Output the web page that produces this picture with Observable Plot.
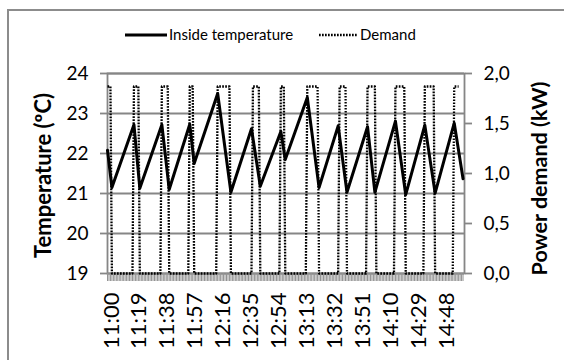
<!DOCTYPE html>
<html>
<head>
<meta charset="utf-8">
<script src="https://cdn.jsdelivr.net/npm/d3@7"></script>
<script src="https://cdn.jsdelivr.net/npm/@observablehq/plot@0.6"></script>
<style>
  html, body { margin: 0; padding: 0; background: #fff; }
  #wrap { position: relative; width: 564px; height: 360px; overflow: hidden; font-family: "Lato", sans-serif; }
  #border { position: absolute; left: 7px; top: 9px; width: 600px; height: 400px; border: 2px solid #8c8c8c; box-sizing: border-box; }
  #chart { position: absolute; left: 0; top: 0; }
  .leg { position: absolute; font-size: 15px; color: #000; line-height: 1; white-space: nowrap; }
  #legsvg { position: absolute; left: 0; top: 0; }
</style>
</head>
<body>
<div id="wrap">
  <div id="border"></div>
  <div id="chart"></div>
  <svg id="legsvg" width="564" height="60">
    <line x1="125" x2="167" y1="35" y2="35" stroke="#000" stroke-width="3"></line>
    <line x1="319" x2="357" y1="35" y2="35" stroke="#000" stroke-width="2.3" stroke-dasharray="1.7 1.3"></line>
  </svg>
  <div class="leg" style="left:169px; top:27px;">Inside temperature</div>
  <div class="leg" style="left:360px; top:27px;">Demand</div>
</div>
<script>
// ---- data ----
// x labels (category axis, one label every 19 minutes)
const xLabels = ["11:00","11:19","11:38","11:57","12:16","12:35","12:54","13:13","13:32","13:51","14:10","14:29","14:48"];
// left axis ticks (°C)
const tempTicks = [19, 20, 21, 22, 23, 24];
// right axis ticks (kW)
const demandTicks = [0, 0.5, 1.0, 1.5, 2.0];

// Inside temperature: vertices (minutes after 11:00, °C)
const tempMinute = [0, 3, 18, 22, 37, 42, 48, 56, 59, 75, 84, 98, 104, 118, 121, 136, 144, 157, 163, 177, 182, 196, 203, 216, 223, 236, 242];
const tempValue  = [22.08, 21.15, 22.72, 21.13, 22.72, 21.10, 21.80, 22.73, 21.75, 23.50, 21.03, 22.62, 21.18, 22.55, 21.85, 23.40, 21.15, 22.69, 21.03, 22.67, 21.03, 22.81, 20.97, 22.71, 21.01, 22.76, 21.37];

// Demand: vertices (minutes after 11:00, kW)
const demandMinute = [0, 2, 3, 17, 18, 21, 22, 36, 37, 41, 42, 55, 56, 58, 59, 74, 75, 83, 84, 98, 99, 103, 104, 117, 118, 120, 121, 135, 136, 143, 144, 157, 158, 162, 163, 176, 177, 182, 183, 195, 196, 202, 203, 215, 216, 222, 223, 235, 236, 239];
const demandKW     = [1.87, 1.87, 0, 0, 1.87, 1.87, 0, 0, 1.87, 1.87, 0, 0, 1.87, 1.87, 0, 0, 1.87, 1.87, 0, 0, 1.87, 1.87, 0, 0, 1.87, 1.87, 0, 0, 1.87, 1.87, 0, 0, 1.87, 1.87, 0, 0, 1.87, 1.87, 0, 0, 1.87, 1.87, 0, 0, 1.87, 1.87, 0, 0, 1.87, 1.87];

const totalMinutes = 243; // number of per-minute categories on the x axis

// ---- build tables ----
const temp = tempMinute.map((m, i) => ({m, t: tempValue[i]}));
const demand = demandMinute.map((m, i) => ({m, kw: demandKW[i]}));
const toMin = s => { const [h, mm] = s.split(":").map(Number); return (h - 11) * 60 + mm; };
const labelMinutes = xLabels.map(toMin);
const labelByMinute = new Map(xLabels.map(s => [toMin(s), s]));
const categoryTicks = d3.range(0, totalMinutes);

// secondary axis: 0..2 kW  <->  19..24 °C
const kw2y = kw => 19 + kw * 2.5;
const y2kw = y => (y - 19) / 2.5;

const grey = "#868686";

const chart = Plot.plot({
  width: 564,
  height: 360,
  marginLeft: 107,
  marginRight: 100,
  marginTop: 73,
  marginBottom: 87,
  x: {domain: [0, totalMinutes], axis: null},
  y: {domain: [19, 24], axis: null},
  style: {fontFamily: "Lato, sans-serif", background: "transparent", color: "#000"},
  marks: [
    Plot.gridY(tempTicks, {stroke: grey, strokeOpacity: 1, strokeWidth: 1.8}),
    Plot.frame({stroke: grey, strokeWidth: 1.8}),
    // dense category tick marks
    Plot.axisX(categoryTicks, {anchor: "bottom", tickSize: 8, stroke: "#929292", strokeOpacity: 1, strokeWidth: 1, tickFormat: () => "", label: null}),
    // labelled ticks
    Plot.axisX(labelMinutes, {anchor: "bottom", tickSize: 0, tickPadding: 19, tickRotate: -90, fontSize: 22, fill: "#000", dx: 4,
      tickFormat: d => labelByMinute.get(d), label: null}),
    // left axis
    Plot.axisY(tempTicks, {anchor: "left", tickSize: 7, tickPadding: 12, stroke: grey, strokeWidth: 1.8, fill: "#000", fontSize: 19, label: null}),
    // right axis (demand)
    Plot.axisY(demandTicks.map(kw2y), {anchor: "right", tickSize: 7, tickPadding: 12, stroke: grey, strokeWidth: 1.8, fill: "#000", fontSize: 19, label: null,
      tickFormat: v => d3.format(".1f")(y2kw(v)).replace(".", ",")}),
    // axis titles
    Plot.text(["Temperature (ºC)"], {frameAnchor: "left", textAnchor: "middle", dx: -64, dy: 2, rotate: -90, fontWeight: "bold", fontSize: 22, fill: "#000"}),
    Plot.text(["Power demand (kW)"], {frameAnchor: "right", textAnchor: "middle", dx: 76, dy: 5, rotate: -90, fontWeight: "bold", fontSize: 21.5, fill: "#000"}),
    // series
    Plot.line(temp, {x: "m", y: "t", stroke: "#000", strokeWidth: 3}),
    Plot.line(demand, {x: "m", y: d => kw2y(d.kw), stroke: "#000", strokeWidth: 2.3, strokeDasharray: "1.7 1.3", strokeLinecap: "butt"})
  ]
});
document.getElementById("chart").appendChild(chart);
</script>
</body>
</html>
